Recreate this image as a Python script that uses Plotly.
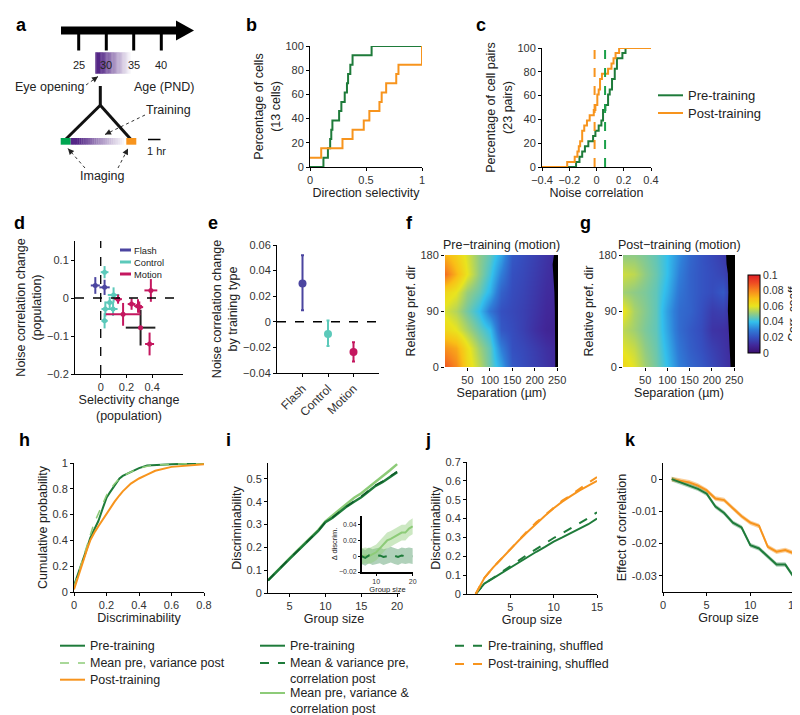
import math
import plotly.graph_objects as go

W, H = 800, 715
FONT = "Liberation Sans, Arial, sans-serif"
DG = "#1E7B3A"
LG = "#8DCB78"
OR = "#F7941D"
FLASH_C = "#4B45A0"
CTRL_C = "#5CC9BA"
MOT_C = "#C4175F"

# ---------------- data ----------------
# b: cumulative direction selectivity (13 cells)
B_X_PRE = [0, 0.12, 0.16, 0.18, 0.19, 0.20, 0.26, 0.28, 0.31, 0.33, 0.34, 0.36, 0.38, 0.55, 1.0]
B_Y_PRE = [0, 7.7, 15.4, 23.1, 30.8, 38.5, 46.2, 53.8, 61.5, 69.2, 76.9, 84.6, 92.3, 100, 100]
B_X_POST = [0, 0.10, 0.29, 0.38, 0.48, 0.53, 0.62, 0.64, 0.68, 0.77, 0.79, 1.0]
B_Y_POST = [7.7, 15.4, 23.1, 30.8, 38.5, 46.2, 53.8, 61.5, 69.2, 76.9, 84.6, 100]

# c: cumulative noise correlation (23 pairs)
C_X_PRE = [-0.4, -0.15, -0.125, -0.105, -0.085, -0.06, -0.025, -0.008, 0.016, 0.036, 0.048,
           0.065, 0.085, 0.097, 0.114, 0.134, 0.15, 0.19, 0.213, 0.4]
C_Y_PRE = [0, 4.3, 8.7, 13.0, 17.4, 21.7, 26.1, 30.4, 34.8, 39.1, 47.8,
           52.2, 60.9, 65.2, 73.9, 82.6, 91.3, 95.7, 100, 100]
C_X_POST = [-0.4, -0.215, -0.16, -0.14, -0.13, -0.12, -0.105, -0.09, -0.07, -0.05, -0.02,
            -0.008, 0.006, 0.016, 0.026, 0.04, 0.085, 0.11, 0.125, 0.14, 0.166, 0.4]
C_Y_POST = [0, 4.3, 8.7, 13.0, 17.4, 21.7, 30.4, 34.8, 39.1, 43.5, 47.8,
            52.2, 60.9, 65.2, 73.9, 78.3, 82.6, 87.0, 91.3, 95.7, 100, 100]
C_MEAN_PRE = 0.063
C_MEAN_POST = -0.014

# d: population changes
D_FLASH_X = [-0.042, 0.03]
D_FLASH_Y = [0.033, 0.028]
D_FLASH_XE = [0.035, 0.04]
D_FLASH_YE = [0.022, 0.02]
D_CTRL_X = [0.03, 0.10, 0.036, 0.096, 0.03, 0.07]
D_CTRL_Y = [0.068, 0.008, -0.029, -0.029, -0.060, -0.012]
D_CTRL_XE = [0.03, 0.045, 0.03, 0.035, 0.025, 0.03]
D_CTRL_YE = [0.016, 0.02, 0.02, 0.018, 0.02, 0.015]
D_MOT_X = [0.39, 0.135, 0.24, 0.29, 0.30, 0.174, 0.38]
D_MOT_Y = [0.020, -0.003, -0.016, -0.021, -0.024, -0.043, -0.121]
D_MOT_XE = [0.05, 0.03, 0.03, 0.03, 0.03, 0.135, 0.035]
D_MOT_YE = [0.03, 0.012, 0.015, 0.018, 0.015, 0.03, 0.03]
D_MEAN_X, D_MEAN_Y, D_MEAN_XE, D_MEAN_YE = [0.31], [-0.078], [0.115], [0.047]
D_GROUPS = ["Flash", "Control", "Motion"]

# e: by training type
E_CATS = ["Flash", "Control", "Motion"]
E_MEAN = [0.030, -0.0095, -0.0235]
E_UP = [0.022, 0.0105, 0.0075]
E_DN = [0.021, 0.0095, 0.0075]

# f, g: correlation maps
HM_X = [0, 25, 50, 75, 100, 125, 150, 175, 200, 225, 250]
HM_Y = [0, 30, 60, 90, 120, 150, 180]
PRE_Z = [
    [0.088, 0.080, 0.064, 0.055, 0.046, 0.036, 0.022, 0.019, 0.016, 0.013, 0.010],
    [0.078, 0.074, 0.062, 0.052, 0.045, 0.030, 0.020, 0.018, 0.015, 0.012, 0.010],
    [0.064, 0.060, 0.053, 0.046, 0.040, 0.022, 0.019, 0.016, 0.012, 0.009, 0.008],
    [0.058, 0.054, 0.047, 0.040, 0.028, 0.020, 0.018, 0.016, 0.013, 0.010, 0.009],
    [0.064, 0.060, 0.051, 0.046, 0.038, 0.024, 0.019, 0.017, 0.014, 0.011, 0.010],
    [0.084, 0.072, 0.060, 0.050, 0.042, 0.030, 0.020, 0.018, 0.015, 0.012, 0.010],
    [0.072, 0.066, 0.058, 0.050, 0.045, 0.036, 0.022, 0.019, 0.016, 0.013, 0.010],
]
POST_Z = [
    [0.064, 0.059, 0.052, 0.047, 0.040, 0.030, 0.025, 0.022, 0.018, 0.014, 0.010],
    [0.059, 0.056, 0.050, 0.046, 0.038, 0.028, 0.023, 0.020, 0.016, 0.013, 0.010],
    [0.055, 0.052, 0.048, 0.045, 0.036, 0.026, 0.022, 0.019, 0.013, 0.012, 0.010],
    [0.061, 0.053, 0.049, 0.045, 0.035, 0.026, 0.024, 0.020, 0.015, 0.016, 0.011],
    [0.052, 0.050, 0.048, 0.045, 0.038, 0.028, 0.024, 0.021, 0.019, 0.022, 0.012],
    [0.057, 0.055, 0.050, 0.046, 0.040, 0.030, 0.024, 0.021, 0.019, 0.017, 0.012],
    [0.050, 0.050, 0.048, 0.045, 0.040, 0.032, 0.025, 0.021, 0.018, 0.015, 0.012],
]
EDGE_Y = [0, 30, 60, 90, 120, 150, 165, 180]
PRE_EDGE_X = [246, 246, 245, 245, 244, 241, 240, 243]
POST_EDGE_X = [242, 240, 238, 236, 237, 236, 233, 232]
SEP_MAX = 252

# h: cumulative discriminability
H_X = [0, 0.02, 0.05, 0.08, 0.1, 0.12, 0.13, 0.15, 0.18, 0.2, 0.22, 0.25, 0.28, 0.3, 0.35,
       0.4, 0.45, 0.5, 0.6, 0.7, 0.8]
H_PRE = [0.05, 0.12, 0.24, 0.34, 0.42, 0.47, 0.5, 0.55, 0.66, 0.73, 0.77, 0.83, 0.88, 0.9,
         0.93, 0.96, 0.98, 0.985, 0.99, 0.995, 1.0]
H_MIX = [0.04, 0.12, 0.25, 0.36, 0.44, 0.52, 0.55, 0.61, 0.69, 0.75, 0.79, 0.84, 0.88, 0.9,
         0.93, 0.96, 0.975, 0.985, 0.99, 0.995, 1.0]
H_POST = [0.02, 0.1, 0.22, 0.33, 0.4, 0.45, 0.47, 0.51, 0.57, 0.6, 0.65, 0.7, 0.75, 0.78,
          0.84, 0.88, 0.91, 0.94, 0.97, 0.98, 0.99]

# i: discriminability vs group size
I_X = list(range(2, 21))
I_PRE = [0.055, 0.088, 0.12, 0.15, 0.18, 0.212, 0.243, 0.272, 0.31, 0.33, 0.355, 0.38, 0.4,
         0.42, 0.445, 0.47, 0.487, 0.507, 0.53]
I_MIXA = [0.055, 0.088, 0.12, 0.151, 0.181, 0.213, 0.244, 0.273, 0.311, 0.332, 0.357, 0.382,
          0.403, 0.424, 0.449, 0.473, 0.49, 0.51, 0.532]
I_MIXB = [0.056, 0.089, 0.121, 0.152, 0.183, 0.215, 0.246, 0.276, 0.314, 0.34, 0.368, 0.393,
          0.418, 0.437, 0.462, 0.488, 0.51, 0.538, 0.565]
# i inset: difference
IN_X = list(range(6, 21))
IN_LIGHT = [0.0, 0.001, 0.0, 0.002, 0.005, 0.01, 0.015, 0.02, 0.022, 0.025, 0.028, 0.03,
            0.03, 0.035, 0.038]
IN_DARK = [0.0, -0.002, 0.001, -0.001, 0.0, 0.001, -0.001, 0.0, 0.002, 0.0, -0.001, 0.001,
           0.0, 0.001, 0.0]
IN_SE = 0.01

# j: shuffled
J_X = list(range(1, 16))
J_POST = [0, 0.085, 0.14, 0.19, 0.24, 0.285, 0.33, 0.375, 0.415, 0.455, 0.49, 0.52, 0.55,
          0.575, 0.6]
J_POST_SH = [0, 0.085, 0.14, 0.19, 0.24, 0.287, 0.335, 0.38, 0.42, 0.46, 0.495, 0.525,
             0.56, 0.59, 0.62]
J_PRE = [0, 0.055, 0.083, 0.112, 0.14, 0.17, 0.198, 0.224, 0.25, 0.278, 0.3, 0.322, 0.345,
         0.37, 0.4]
J_PRE_SH = [0, 0.055, 0.085, 0.115, 0.145, 0.178, 0.21, 0.24, 0.268, 0.297, 0.322, 0.348,
            0.375, 0.403, 0.433]

# k: effect of correlation
K_X = list(range(1, 16))
K_POST = [0, -0.0005, -0.001, -0.002, -0.0035, -0.006, -0.0065, -0.009, -0.0115, -0.0135,
          -0.0145, -0.021, -0.0225, -0.022, -0.023]
K_PRE = [0, -0.001, -0.002, -0.003, -0.0045, -0.0085, -0.0105, -0.0135, -0.015, -0.0205,
         -0.0215, -0.024, -0.0265, -0.0265, -0.0305]
K_SE = 0.0007


# ---------------- helpers (pixels -> paper fractions) ----------------
def X(p): return p / W
def Y(p): return 1 - p / H
def dx(a, b): return [X(a), X(b)]
def dy(top, bot): return [Y(bot), Y(top)]


def axis(domain, rng, anchor, title=None, standoff=4, tickvals=None, ticktext=None, **kw):
    d = dict(domain=domain, range=rng, anchor=anchor, showline=True, linecolor="black",
             linewidth=1, ticks="outside", ticklen=3, tickcolor="black", showgrid=False,
             zeroline=False, tickfont=dict(size=11, color="#333"), automargin=False)
    if title:
        d["title"] = dict(text=title, font=dict(size=12.5, color="#222"), standoff=standoff)
    if tickvals is not None:
        d["tickvals"] = tickvals
        d["tickmode"] = "array"
    if ticktext is not None:
        d["ticktext"] = ticktext
    d.update(kw)
    return d


fig = go.Figure()
shapes, annots = [], []


def line(xs, ys, xa, ya, color, width=2, dash="solid", shape="linear"):
    fig.add_trace(go.Scatter(x=xs, y=ys, mode="lines", xaxis=xa, yaxis=ya, hoverinfo="skip",
                             line=dict(color=color, width=width, dash=dash, shape=shape)))


def band(xs, mid, se, xa, ya, fillcolor):
    up = [m + se for m in mid]
    lo = [m - se for m in mid]
    fig.add_trace(go.Scatter(x=xs + xs[::-1], y=up + lo[::-1], fill="toself", mode="lines",
                             line=dict(width=0), fillcolor=fillcolor, xaxis=xa, yaxis=ya,
                             hoverinfo="skip"))


def txt(x, y, s, size=12.5, xanchor="center", bold=False, color="#222", **kw):
    annots.append(dict(x=X(x), y=Y(y), xref="paper", yref="paper", text=f"<b>{s}</b>" if bold else s,
                       showarrow=False, xanchor=xanchor, yanchor="middle",
                       font=dict(size=size, color=color, family=FONT), **kw))


def pline(x0, y0, x1, y1, color="black", width=1, dash="solid"):
    shapes.append(dict(type="line", xref="paper", yref="paper", x0=X(x0), y0=Y(y0),
                       x1=X(x1), y1=Y(y1), line=dict(color=color, width=width, dash=dash)))


def prect(x0, y0, x1, y1, color):
    shapes.append(dict(type="rect", xref="paper", yref="paper", x0=X(x0), y0=Y(y0),
                       x1=X(x1), y1=Y(y1), fillcolor=color, line=dict(width=0)))


def ppoly(pts, color):
    path = "M " + " L ".join(f"{X(a)},{Y(b)}" for a, b in pts) + " Z"
    shapes.append(dict(type="path", xref="paper", yref="paper", path=path, fillcolor=color,
                       line=dict(width=0)))


def darrow(x0, y0, x1, y1):
    pline(x0, y0, x1, y1, "#333", 1, "dot")
    L = math.hypot(x1 - x0, y1 - y0)
    ux, uy = (x1 - x0) / L, (y1 - y0) / L
    bx, by = x1 - 6 * ux, y1 - 6 * uy
    ppoly([(x1, y1), (bx - 3 * uy, by + 3 * ux), (bx + 3 * uy, by - 3 * ux)], "#222")


def gradient(x0, x1, y0, y1, n=30):
    c0 = (84, 38, 134)
    for k in range(n):
        t = k / (n - 1)
        f = max(0.0, (t - 0.12) / 0.88) ** 0.9
        c = tuple(int(a + (255 - a) * f) for a in c0)
        xa = x0 + (x1 - x0) * k / n
        xb = x0 + (x1 - x0) * (k + 1) / n + 0.3
        prect(xa, y0, xb, y1, "rgb(%d,%d,%d)" % c)


def legend_item(x0, x1, y, color, dash, label, width=2, size=12.5):
    pline(x0, y, x1, y, color, width, dash)
    txt(x1 + 3, y, label, size=size, xanchor="left")


# ---------------- panel a (schematic) ----------------
prect(53, 18.5, 169, 26.5, "black")
ppoly([(168, 12.5), (186, 22.5), (168, 32.5)], "black")
for xt in [70.7, 98.3, 125.7, 153.3]:
    pline(xt, 22, xt, 42.5, "black", 3)
gradient(87.3, 124, 44.3, 65.7)
for xt, lab in zip([70.7, 98.3, 125.7, 153.3], ["25", "30", "35", "40"]):
    txt(xt, 56.5, lab, size=11, color="#222")
txt(42, 79, "Eye opening", size=12.5)
txt(156, 79, "Age (PND)", size=12.5)
darrow(78, 77, 90, 68.5)
pline(92.3, 78, 92.3, 97.3, "#111", 3)
pline(92.3, 97.3, 57.5, 131.5, "#111", 3)
pline(92.3, 97.3, 123, 131.5, "#111", 3)
prect(52.7, 130, 62.7, 136.7, "#00A651")
gradient(62.7, 118.3, 130, 136.7, 26)
prect(118.3, 130, 128.3, 136.7, OR)
txt(160, 101.5, "Training", size=12.5)
darrow(137, 107, 97, 126.5)
pline(140, 131.5, 152.5, 131.5, "black", 1.5)
txt(148, 143, "1 hr", size=11)
txt(94.5, 167.5, "Imaging", size=12.5)
darrow(77, 160, 60, 140.5)
darrow(110, 160, 120, 140.5)

# ---------------- panel b ----------------
line(B_X_PRE, B_Y_PRE, "x", "y", DG, 2, shape="hv")
line(B_X_POST, B_Y_POST, "x", "y", OR, 2, shape="hv")

# ---------------- panel c ----------------
line(C_X_PRE, C_Y_PRE, "x2", "y2", DG, 2, shape="hv")
line(C_X_POST, C_Y_POST, "x2", "y2", OR, 2, shape="hv")
line([C_MEAN_POST, C_MEAN_POST], [0, 100], "x2", "y2", OR, 2, "dash")
line([C_MEAN_PRE, C_MEAN_PRE], [0, 100], "x2", "y2", "#1BA04A", 2, "dash")
legend_item(650, 675, 87.3, DG, "solid", "Pre-training", 2, 13)
legend_item(650, 675, 105, OR, "solid", "Post-training", 2, 13)

# ---------------- panel d ----------------
shapes.append(dict(type="line", xref="x3", yref="y3 domain", x0=0, x1=0, y0=0, y1=1,
                   line=dict(color="black", width=1.3, dash="dash")))
shapes.append(dict(type="line", xref="x3 domain", yref="y3", x0=0, x1=1, y0=0, y1=0,
                   line=dict(color="black", width=1.3, dash="dash")))


def cross(xs, ys, xe, ye, color, barcolor, xa="x3", ya="y3"):
    fig.add_trace(go.Scatter(x=xs, y=ys, mode="markers", xaxis=xa, yaxis=ya, hoverinfo="skip",
                             marker=dict(color=color, size=5),
                             error_x=dict(type="data", array=xe, color=barcolor, thickness=2, width=0),
                             error_y=dict(type="data", array=ye, color=barcolor, thickness=2, width=0)))


cross(D_CTRL_X, D_CTRL_Y, D_CTRL_XE, D_CTRL_YE, CTRL_C, CTRL_C)
cross(D_MEAN_X, D_MEAN_Y, D_MEAN_XE, D_MEAN_YE, MOT_C, "#222")
cross(D_MOT_X, D_MOT_Y, D_MOT_XE, D_MOT_YE, MOT_C, MOT_C)
cross(D_FLASH_X, D_FLASH_Y, D_FLASH_XE, D_FLASH_YE, FLASH_C, FLASH_C)
# legend: one text block, line samples beside each row
for k, c in enumerate([FLASH_C, CTRL_C, MOT_C]):
    pline(112, 242 + 12 * k, 123, 242 + 12 * k, c, 3)
annots.append(dict(x=X(124), y=Y(236), xref="paper", yref="paper", xanchor="left", yanchor="top",
                   text="<br>".join(D_GROUPS), showarrow=False, align="left",
                   font=dict(size=9.3, color="#222", family=FONT)))

# ---------------- panel e ----------------
shapes.append(dict(type="line", xref="x4 domain", yref="y4", x0=0, x1=1, y0=0, y1=0,
                   line=dict(color="black", width=1.5, dash="dash")))
for k, c in enumerate([FLASH_C, CTRL_C, MOT_C]):
    fig.add_trace(go.Scatter(x=[k + 1], y=[E_MEAN[k]], mode="markers", xaxis="x4", yaxis="y4",
                             marker=dict(color=c, size=8), hoverinfo="skip",
                             error_y=dict(type="data", symmetric=False, array=[E_UP[k]],
                                          arrayminus=[E_DN[k]], color=c, thickness=2, width=1.5)))

# ---------------- panels f, g ----------------
CS = [[0, "#3B0F6F"], [0.1, "#41289A"], [0.2, "#3550C0"], [0.3, "#2F7ED8"], [0.4, "#33C0EC"],
      [0.5, "#8FCB86"], [0.6, "#E9E41E"], [0.7, "#F9C016"], [0.8, "#F7861E"], [0.9, "#EE4B23"],
      [1, "#E01F26"]]
for z, edge, xa, ya in [(PRE_Z, PRE_EDGE_X, "x5", "y5"), (POST_Z, POST_EDGE_X, "x6", "y6")]:
    fig.add_trace(go.Heatmap(x=HM_X, y=HM_Y, z=z, coloraxis="coloraxis", zsmooth="best",
                             xaxis=xa, yaxis=ya, hoverinfo="skip"))
    fig.add_trace(go.Scatter(x=edge + [SEP_MAX + 5, SEP_MAX + 5], y=EDGE_Y + [185, -5],
                             fill="toself", fillcolor="black", mode="lines",
                             line=dict(width=0, color="black"), xaxis=xa, yaxis=ya,
                             hoverinfo="skip"))
txt(493, 237, "Pre−training (motion)", size=12.5)
txt(671, 237, "Post−training (motion)", size=12.5)

# ---------------- panel h ----------------
line(H_X, H_PRE, "x7", "y7", DG, 2)
line(H_X, H_MIX, "x7", "y7", LG, 1.5, "dash")
line(H_X, H_POST, "x7", "y7", OR, 2)
legend_item(52, 77, 637.7, DG, "solid", "Pre-training")
legend_item(52, 77, 655, LG, "dash", "Mean pre, variance post", 1.5)
legend_item(52, 77, 671.7, OR, "solid", "Post-training")

# ---------------- panel i ----------------
line(I_X, I_MIXB, "x8", "y8", LG, 2.5)
line(I_X, I_PRE, "x8", "y8", DG, 2.5)
line(I_X, I_MIXA, "x8", "y8", "#0E5A2A", 1.5, "dash")
band(IN_X, IN_DARK, IN_SE, "x9", "y9", "rgba(30,123,58,0.35)")
band(IN_X, IN_LIGHT, IN_SE, "x9", "y9", "rgba(141,203,120,0.45)")
line(IN_X, IN_LIGHT, "x9", "y9", LG, 2)
line(IN_X, IN_DARK, "x9", "y9", DG, 2, "dash")
legend_item(252, 277, 637.7, DG, "solid", "Pre-training")
legend_item(252, 277, 655, DG, "dash", "Mean & variance pre,")
txt(280, 670.5, "correlation post", xanchor="left")
legend_item(252, 277, 685, LG, "solid", "Mean pre, variance &")
txt(280, 700.5, "correlation post", xanchor="left")

# ---------------- panel j ----------------
line(J_X, J_PRE, "x10", "y10", DG, 2)
line(J_X, J_PRE_SH, "x10", "y10", DG, 2, "dash")
line(J_X, J_POST, "x10", "y10", OR, 2)
line(J_X, J_POST_SH, "x10", "y10", OR, 2, "dash")
legend_item(447, 475, 637.7, DG, "dash", "Pre-training, shuffled")
legend_item(447, 475, 656, OR, "dash", "Post-training, shuffled")

# ---------------- panel k ----------------
band(K_X, K_POST, K_SE, "x11", "y11", "rgba(247,148,29,0.45)")
band(K_X, K_PRE, K_SE, "x11", "y11", "rgba(30,123,58,0.35)")
line(K_X, K_POST, "x11", "y11", OR, 2)
line(K_X, K_PRE, "x11", "y11", DG, 2)

# ---------------- panel letters ----------------
for s, x, y in [("a", 13, 17), ("b", 243, 17), ("c", 473, 17), ("d", 11, 215), ("e", 205, 215),
                ("f", 402, 215), ("g", 577, 215), ("h", 16, 432), ("i", 220, 432),
                ("j", 420, 432), ("k", 622, 432)]:
    txt(x, y, s, size=18, bold=True, color="black")

# ---------------- layout ----------------
pm = ["0", "0.02", "0.04", "0.06", "0.08", "0.1"]
fig.update_layout(
    width=W, height=H, margin=dict(l=0, r=0, t=0, b=0), showlegend=False,
    plot_bgcolor="white", paper_bgcolor="white", font=dict(family=FONT, color="#222"),
    shapes=shapes, annotations=annots,
    xaxis=axis(dx(302, 414), [0, 1], "y", "Direction selectivity", 2,
               [0, 0.5, 1], ["0", "0.5", "1"]),
    yaxis=axis(dy(38, 159), [0, 100], "x", "Percentage of cells<br>(13 cells)", 2,
               [0, 20, 40, 60, 80, 100]),
    xaxis2=axis(dx(534, 643), [-0.4, 0.4], "y2", "Noise correlation", 2,
                [-0.4, -0.2, 0, 0.2, 0.4], ["−0.4", "−0.2", "0", "0.2", "0.4"]),
    yaxis2=axis(dy(40, 159), [0, 100], "x2", "Percentage of cell pairs<br>(23 pairs)", 2,
                [0, 20, 40, 60, 80, 100]),
    xaxis3=axis(dx(67, 175), [-0.2, 0.64], "y3", "Selectivity change<br>(population)", 2,
                [0, 0.2, 0.4], ["0", "0.2", "0.4"]),
    yaxis3=axis(dy(233, 366), [-0.2, 0.15], "x3", "Noise correlation change<br>(population)", 2,
                [-0.2, -0.1, 0, 0.1], ["−0.2", "−0.1", "0", "0.1"]),
    xaxis4=axis(dx(269, 371), [0, 4], "y4", None, 2, [1, 2, 3], E_CATS, tickangle=-45,
                tickfont=dict(size=12, color="#333")),
    yaxis4=axis(dy(237, 365), [-0.04, 0.06], "x4", "Noise correlation change<br>by training type", 2,
                [-0.04, -0.02, 0, 0.02, 0.04, 0.06], ["−0.04", "−0.02", "0", "0.02", "0.04", "0.06"]),
    xaxis5=axis(dx(437, 550), [0, SEP_MAX], "y5", "Separation (µm)", 2, [50, 100, 150, 200, 250],
                showline=False),
    yaxis5=axis(dy(247, 359), [0, 180], "x5", "Relative pref. dir", 2, [0, 90, 180], showline=False),
    xaxis6=axis(dx(615, 727), [0, SEP_MAX], "y6", "Separation (µm)", 2, [50, 100, 150, 200, 250],
                showline=False),
    yaxis6=axis(dy(247, 359), [0, 180], "x6", "Relative pref. dir", 2, [0, 90, 180], showline=False),
    coloraxis=dict(cmin=0, cmax=0.1, colorscale=CS,
                   colorbar=dict(x=X(738), xanchor="left", xpad=2, y=Y(306), yanchor="middle",
                                 len=98 / H, lenmode="fraction", thickness=12,
                                 outlinecolor="black", outlinewidth=1, ticks="",
                                 tickvals=[0, 0.02, 0.04, 0.06, 0.08, 0.1], ticktext=pm,
                                 tickfont=dict(size=10.5, color="#333"),
                                 title=dict(text="Corr. coeff", side="right",
                                            font=dict(size=12, color="#222")))),
    xaxis7=axis(dx(66, 196), [0, 0.8], "y7", "Discriminability", 2, [0, 0.2, 0.4, 0.6, 0.8],
                ["0", "0.2", "0.4", "0.6", "0.8"]),
    yaxis7=axis(dy(455, 584), [0, 1.0], "x7", "Cumulative probability", 2,
                [0, 0.2, 0.4, 0.6, 0.8, 1], ["0", "0.2", "0.4", "0.6", "0.8", "1"]),
    xaxis8=axis(dx(260, 392), [2, 20.4], "y8", "Group size", 2, [5, 10, 15, 20]),
    yaxis8=axis(dy(455, 585), [0, 0.57], "x8", "Discriminability", 2,
                [0, 0.1, 0.2, 0.3, 0.4, 0.5], ["0", "0.1", "0.2", "0.3", "0.4", "0.5"]),
    xaxis9=axis(dx(354, 405), [6.1, 20.1], "y9", "Group size", 0, [10, 20],
                linewidth=1.8, ticklen=2, tickfont=dict(size=7, color="#333"),
                title_font=dict(size=7.5)),
    yaxis9=axis(dy(508, 564), [-0.02, 0.051], "x9", "Δ discrim.", 0, [-0.02, 0, 0.02, 0.04],
                ["−0.02", "0", "0.02", "0.04"], linewidth=1.8, ticklen=2,
                tickfont=dict(size=7, color="#333"), title_font=dict(size=7.5)),
    xaxis10=axis(dx(459, 589), [0, 15], "y10", "Group size", 2, [5, 10, 15]),
    yaxis10=axis(dy(454, 586), [0, 0.7], "x10", "Discriminability", 2,
                 [0, 0.1, 0.2, 0.3, 0.4, 0.5, 0.6, 0.7],
                 ["0", "0.1", "0.2", "0.3", "0.4", "0.5", "0.6", "0.7"]),
    xaxis11=axis(dx(655, 786), [0, 15], "y11", "Group size", 2, [0, 5, 10, 15]),
    yaxis11=axis(dy(455, 584), [-0.035, 0.005], "x11", "Effect of correlation", 2,
                 [-0.03, -0.02, -0.01, 0], ["-0.03", "-0.02", "-0.01", "0"]),
)

fig.write_html("out.html")
